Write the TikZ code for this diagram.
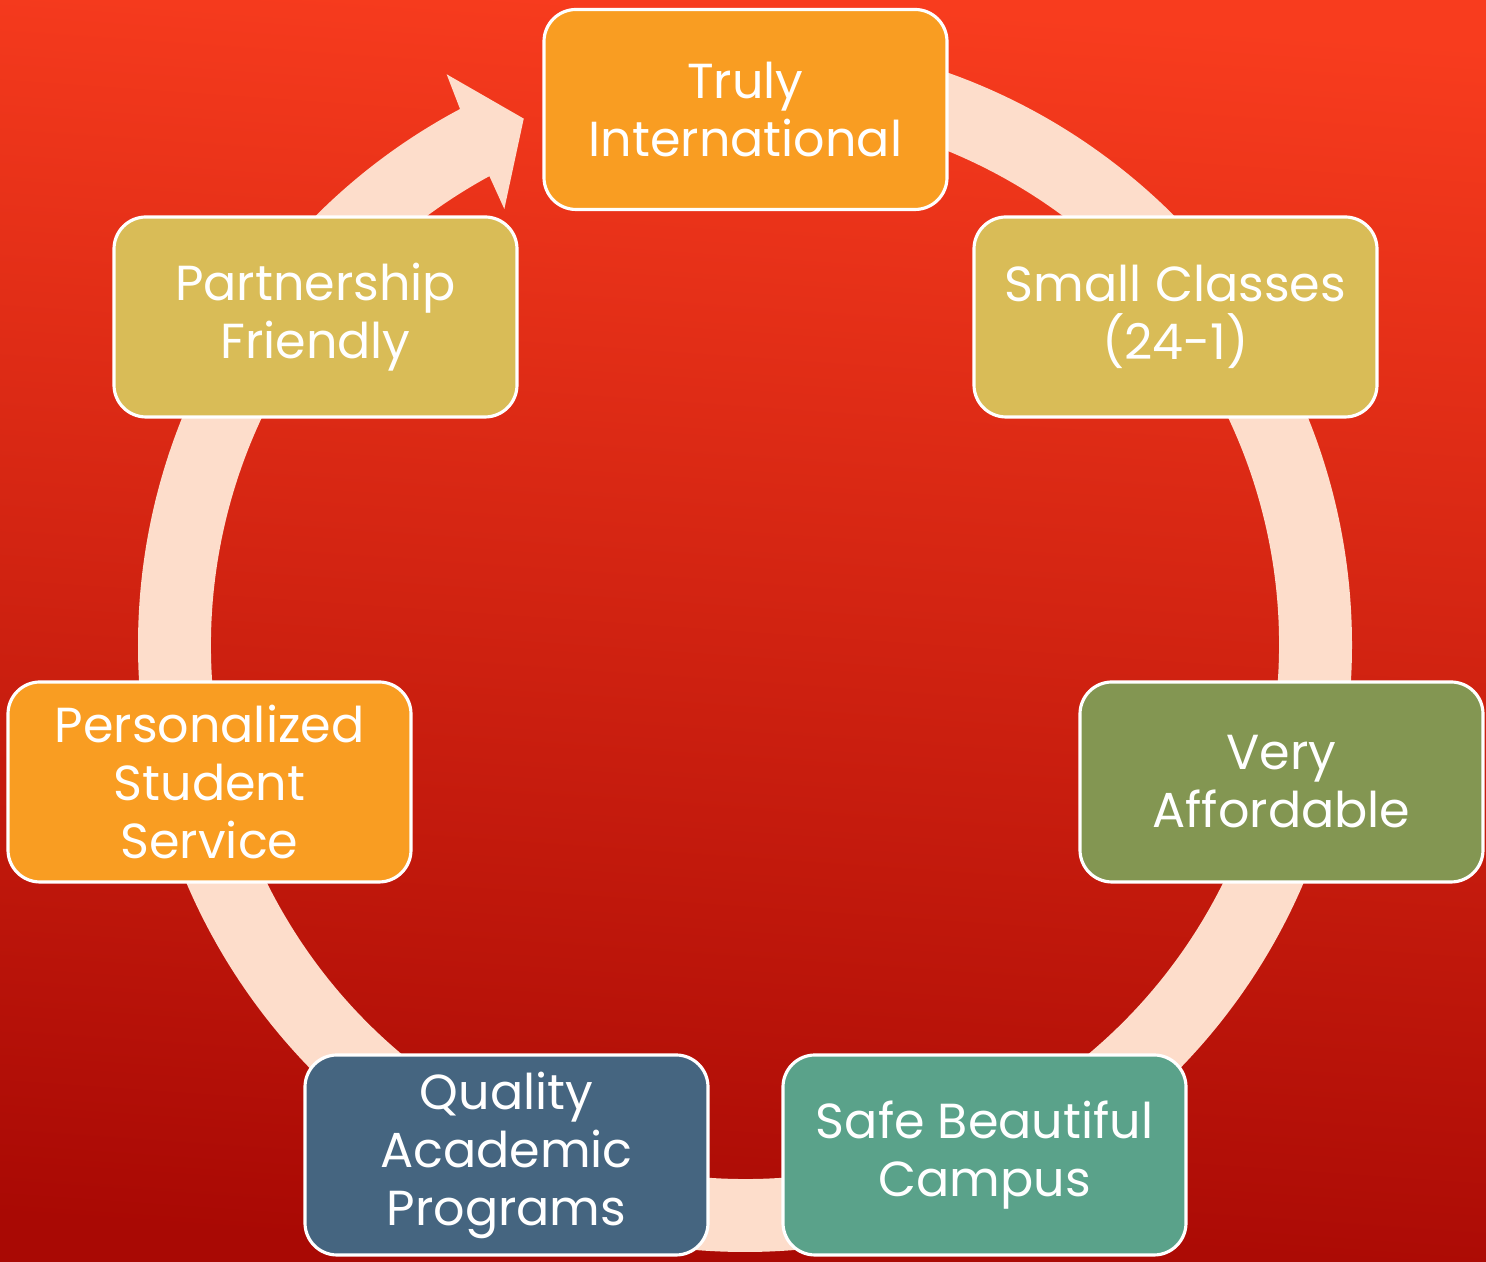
\documentclass[tikz,border=0pt]{standalone}
\usepackage{fontspec}
\setmainfont{Poppins}
\usetikzlibrary{positioning, calc}

\definecolor{bgtop}{HTML}{F83C1E}
\definecolor{bgbottom}{HTML}{A90904}
\definecolor{ringcol}{HTML}{FDDDCB}
\definecolor{orangebox}{HTML}{F99D22}
\definecolor{goldbox}{HTML}{D9BC57}
\definecolor{olivebox}{HTML}{839652}
\definecolor{tealbox}{HTML}{5AA28A}
\definecolor{navybox}{HTML}{456580}

\begin{document}
\begin{tikzpicture}[
    % Node styles
    item/.style={rectangle, draw=white, line width=0.9pt, rounded corners=0.32cm, minimum width=4.03cm, minimum height=2.0cm, align=center, text=white, font=\fontsize{14}{16.5}\selectfont, inner sep=2pt},
    ring/.style={fill=ringcol, draw=none},
]

% === Background ===
\shade[top color=bgtop, bottom color=bgbottom, shading angle=-4] (0,0) rectangle (14.86,12.62);
\useasboundingbox (0,0) rectangle (14.86,12.62);

% === Cycle ring with arrow head ===
\begin{scope}[shift={(7.45,6.17)}]
    \fill[ring] (90:6.07) arc[start angle=90, end angle=-242, radius=6.07cm]
        -- (-242.4:6.44) -- (-247.2:5.71) -- (-241.1:4.98) -- (-241.4:5.34)
        arc[start angle=-241.4, end angle=90, radius=5.34cm] -- cycle;
\end{scope}

% === Items ===
\node[item, fill=orangebox] (intl) at (7.455, 11.525) {Truly\\International};
\node[item, fill=goldbox] (classes) at (11.755, 9.45) {Small Classes\\(24-1)};
\node[item, fill=olivebox] (afford) at (12.815, 4.80) {Very\\Affordable};
\node[item, fill=tealbox] (campus) at (9.845, 1.07) {Safe Beautiful\\Campus};
\node[item, fill=navybox] (quality) at (5.065, 1.07) {Quality\\Academic\\Programs};
\node[item, fill=orangebox] (service) at (2.095, 4.80) {Personalized\\Student\\Service};
\node[item, fill=goldbox] (partner) at (3.155, 9.45) {Partnership\\Friendly};

\end{tikzpicture}
\end{document}
